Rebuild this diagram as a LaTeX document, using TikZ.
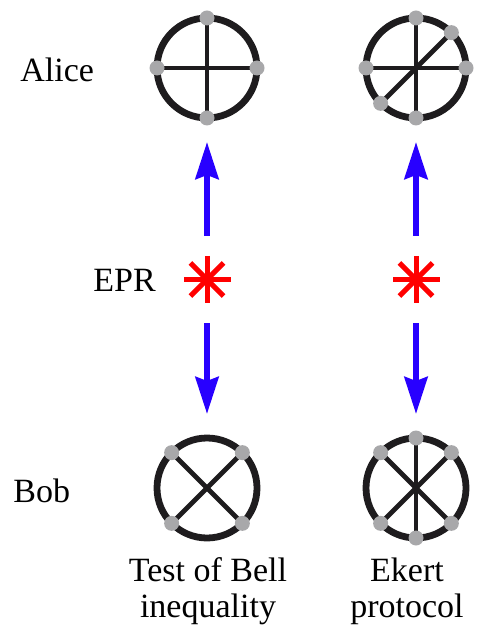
\documentclass[tikz,border=0pt]{standalone}
\usepackage{fontspec}
\setmainfont{Liberation Serif}
\usepackage{xcolor}
\usepackage{tikz}
\usetikzlibrary{arrows.meta}

\definecolor{ringblack}{RGB}{30,28,30}
\definecolor{dotgray}{RGB}{168,168,170}
\definecolor{beamblue}{RGB}{40,0,255}
\definecolor{eprred}{RGB}{255,0,0}

\tikzset{
  ring/.style={circle, draw=ringblack, line width=3.4pt, minimum size=50pt, inner sep=0pt, outer sep=0pt},
  spoke/.style={draw=ringblack, line width=2.4pt},
  knob/.style={fill=dotgray},
  src/.style={circle, minimum size=23.5pt, inner sep=0pt, outer sep=0pt},
  spark/.style={draw=eprred, line width=2.5pt},
  beam/.style={draw=beamblue, line width=3pt, -{Stealth[length=18.5pt, width=11.5pt, inset=2pt]},
    shorten <=10pt, shorten >=12pt},
  lbl/.style={font=\fontsize{17}{17.5}\selectfont, inner sep=0pt}
}

\begin{document}
\begin{tikzpicture}[x=0.5pt,y=-0.5pt]
\useasboundingbox (0,0) rectangle (479,630);

% detectors and sources
\node[ring] (a1) at (207,68) {};
\node[ring] (a2) at (416,68) {};
\node[ring] (b1) at (207,488) {};
\node[ring] (b2) at (416,488) {};
\node[src] (s1) at (207,279.5) {};
\node[src] (s2) at (416,279.5) {};

% Alice, left: 0/90 settings
\foreach \a/\b in {0/180,90/270}
  \draw[spoke] (a1.\a) -- (a1.\b);
\foreach \a in {0,90,180,270}
  \fill[knob] (a1.\a) circle (3.75pt);

% Alice, right: 0/45/90 settings
\foreach \a/\b in {0/180,90/270,45/225}
  \draw[spoke] (a2.\a) -- (a2.\b);
\foreach \a in {0,45,90,180,225,270}
  \fill[knob] (a2.\a) circle (3.75pt);

% Bob, left: 45/135 settings
\foreach \a/\b in {45/225,135/315}
  \draw[spoke] (b1.\a) -- (b1.\b);
\foreach \a in {45,135,225,315}
  \fill[knob] (b1.\a) circle (3.75pt);

% Bob, right: 45/90/135 settings
\foreach \a/\b in {90/270,45/225,135/315}
  \draw[spoke] (b2.\a) -- (b2.\b);
\foreach \a in {45,90,135,225,270,315}
  \fill[knob] (b2.\a) circle (3.75pt);

% EPR pair sources
\foreach \s in {s1,s2}
  \foreach \a/\b in {0/180,45/225,90/270,135/315}
    \draw[spark] (\s.\a) -- (\s.\b);

% photons to each side
\draw[beam] (s1) -- (a1);
\draw[beam] (s1) -- (b1);
\draw[beam] (s2) -- (a2);
\draw[beam] (s2) -- (b2);

% labels
\node[lbl, anchor=base west] (alice) at (20,82) {Alice};
\node[lbl, anchor=base west] (epr) at (93,292) {EPR};
\node[lbl, anchor=base west] (bob) at (13,502) {Bob};
\node[lbl, anchor=base, align=center] (bell) at (208,617) {Test of Bell\\[0.5pt]inequality};
\node[lbl, anchor=base, align=center] (ekert) at (407,617) {Ekert\\[0.5pt]protocol};

\end{tikzpicture}
\end{document}
